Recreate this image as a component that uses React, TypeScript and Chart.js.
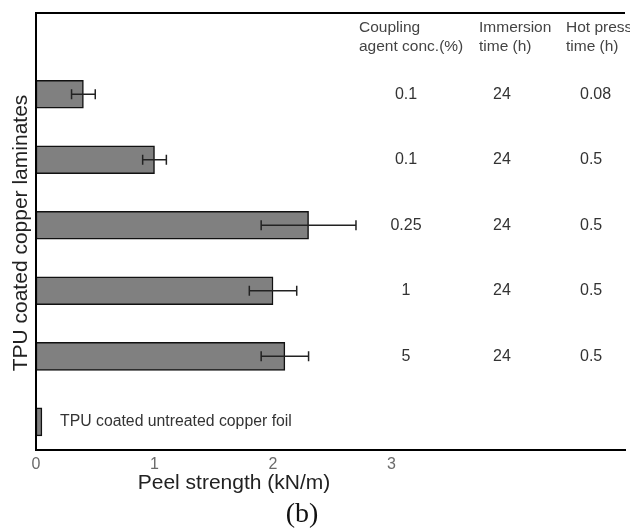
import React, { useEffect, useRef } from "react";
import { Chart, registerables } from "chart.js";

Chart.register(...registerables);

// Data
const rowIndex = [0, 1, 2, 3, 4, 5];
const peelStrength = [0.4, 1.0, 2.3, 2.0, 2.1, 0.05];
const peelError = [0.1, 0.1, 0.4, 0.2, 0.2, 0];
const couplingConc = ["0.1", "0.1", "0.25", "1", "5"];
const immersionTime = ["24", "24", "24", "24", "24"];
const hotPressTime = ["0.08", "0.5", "0.5", "0.5", "0.5"];
const untreatedLabel = "TPU coated untreated copper foil";
const xTickLabels = ["0", "1", "2", "3"];
const xTitle = "Peel strength (kN/m)";
const yTitle = "TPU coated copper laminates";
const panelLabel = "(b)";
const headers = [
  ["Coupling", "agent conc.(%)"],
  ["Immersion", "time (h)"],
  ["Hot press", "time (h)"],
];

const SANS = "'Liberation Sans', Arial, sans-serif";

const decorPlugin = {
  id: "decor",
  afterDatasetsDraw(chart: any) {
    const { ctx, chartArea, scales } = chart;
    const xs = scales.x;
    const ys = scales.y;
    ctx.save();
    // error bars
    ctx.strokeStyle = "#222";
    ctx.lineWidth = 1.5;
    rowIndex.forEach((r, i) => {
      const e = peelError[i];
      if (!e) return;
      const y = ys.getPixelForValue(r);
      const x0 = xs.getPixelForValue(peelStrength[i] - e);
      const x1 = xs.getPixelForValue(peelStrength[i] + e);
      ctx.beginPath();
      ctx.moveTo(x0, y);
      ctx.lineTo(x1, y);
      ctx.moveTo(x0, y - 5);
      ctx.lineTo(x0, y + 5);
      ctx.moveTo(x1, y - 5);
      ctx.lineTo(x1, y + 5);
      ctx.stroke();
    });
    // frame: left and top
    ctx.strokeStyle = "#000";
    ctx.lineWidth = 2;
    ctx.beginPath();
    ctx.moveTo(chartArea.left, chartArea.bottom + 1);
    ctx.lineTo(chartArea.left, chartArea.top);
    ctx.lineTo(chartArea.right, chartArea.top);
    ctx.stroke();

    // table headers
    ctx.fillStyle = "#444";
    ctx.font = `15.5px ${SANS}`;
    ctx.textAlign = "left";
    ctx.textBaseline = "middle";
    const headX = [359, 479, 566];
    headers.forEach((h, i) => {
      ctx.fillText(h[0], headX[i], 28);
      ctx.fillText(h[1], headX[i], 47);
    });
    // table values
    ctx.font = `16px ${SANS}`;
    ctx.fillStyle = "#333";
    couplingConc.forEach((v, i) => {
      const y = ys.getPixelForValue(rowIndex[i]);
      ctx.textAlign = "center";
      ctx.fillText(v, 406, y);
      ctx.fillText(immersionTime[i], 502, y);
      ctx.textAlign = "left";
      ctx.fillText(hotPressTime[i], 580, y);
    });
    // untreated label
    ctx.font = `15.8px ${SANS}`;
    ctx.textAlign = "left";
    ctx.fillText(untreatedLabel, 60, ys.getPixelForValue(rowIndex[5]));

    // axis titles
    ctx.fillStyle = "#222";
    ctx.font = `21px ${SANS}`;
    ctx.textAlign = "center";
    ctx.fillText(xTitle, 234, 483);
    ctx.save();
    ctx.translate(21, 233);
    ctx.rotate(-Math.PI / 2);
    ctx.fillText(yTitle, 0, 0);
    ctx.restore();
    // panel label
    ctx.font = `28px 'Liberation Serif', 'Times New Roman', serif`;
    ctx.fillStyle = "#111";
    ctx.fillText(panelLabel, 302, 515);
    ctx.restore();
  },
};

export default function App() {
  const ref = useRef<HTMLCanvasElement>(null);
  useEffect(() => {
    if (!ref.current) return;
    const chart = new Chart(ref.current, {
      type: "bar",
      data: {
        datasets: [
          {
            data: rowIndex.map((r, i) => ({ x: peelStrength[i], y: r })),
            backgroundColor: "#808080",
            borderColor: "#111",
            borderWidth: 1.5,
            borderSkipped: false,
            barThickness: 28,
          } as any,
        ],
      },
      options: {
        indexAxis: "y",
        responsive: false,
        animation: false,
        events: [],
        layout: { padding: { left: 36, top: 13, right: 0, bottom: 0 } },
        plugins: {
          legend: { display: false },
          tooltip: { enabled: false },
        },
        scales: {
          x: {
            type: "linear",
            min: 0,
            max: 4.97,
            grid: { display: false, drawTicks: false },
            border: { display: true, color: "#000", width: 2 },
            ticks: {
              stepSize: 1,
              padding: 5,
              color: "#6a6a6a",
              font: { family: SANS, size: 16 },
              callback: (v: any) => {
                const s = String(v);
                return xTickLabels.includes(s) ? s : "";
              },
            },
            afterFit: (scale: any) => {
              scale.height = 80;
            },
          },
          y: {
            type: "linear",
            min: -1.24,
            max: 5.43,
            reverse: true,
            offset: false,
            bounds: "data",
            grace: 0,
            display: false,
          },
        },
      },
      plugins: [decorPlugin],
    });
    return () => chart.destroy();
  }, []);
  return (
    <div style={{ position: "fixed", left: 0, top: 0, width: 630, height: 530, background: "#fff" }}>
      <canvas ref={ref} width={630} height={530} />
    </div>
  );
}
